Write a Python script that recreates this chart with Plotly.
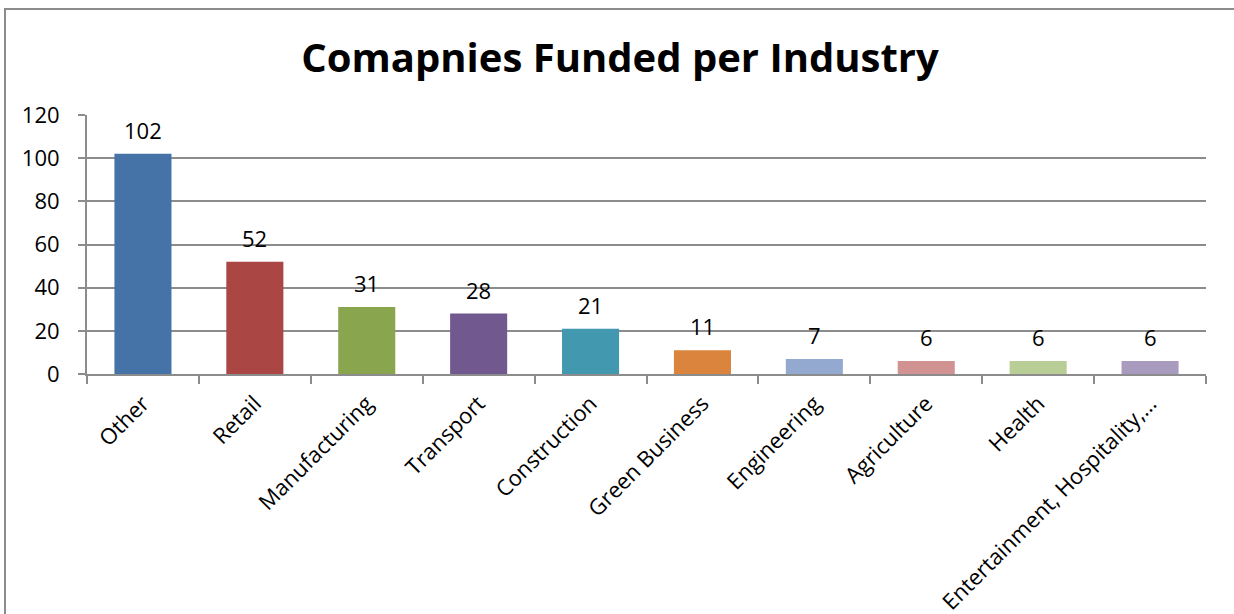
import plotly.graph_objects as go

industries = ["Other", "Retail", "Manufacturing", "Transport", "Construction",
              "Green Business", "Engineering", "Agriculture", "Health",
              "Entertainment, Hospitality,…"]
companies = [102, 52, 31, 28, 21, 11, 7, 6, 6, 6]
bar_colors = ["#4572A7", "#AA4643", "#89A54E", "#71588F", "#4198AF",
              "#DB843D", "#93A9CF", "#D19392", "#B9CD96", "#A99BBD"]
y_ticks = [0, 20, 40, 60, 80, 100, 120]

W, H = 1234, 614
ML, MR, MT, MB = 87, 28, 115, 240
FONT = "Open Sans, Calibri, sans-serif"
GRID = "#8c8c8c"

fig = go.Figure(go.Bar(
    x=industries,
    y=companies,
    marker=dict(color=bar_colors, line=dict(width=0)),
    width=0.51,
    hoverinfo="x+y",
))

# value labels above each bar
for name, val in zip(industries, companies):
    fig.add_annotation(x=name, y=val, text=str(val), showarrow=False,
                       xanchor="center", yanchor="bottom", yshift=7,
                       font=dict(family=FONT, size=22, color="#000000"))

# outer chart frame (runs off the right and bottom edges)
pw, ph = W - ML - MR, H - MT - MB
fig.add_shape(type="rect", xref="paper", yref="paper",
              x0=(5 - ML) / pw, x1=(W + 20 - ML) / pw,
              y0=-(H + 20 - MT - ph) / ph, y1=(H - MB - 9) / ph,
              line=dict(color=GRID, width=2), fillcolor="rgba(0,0,0,0)",
              layer="below")

fig.update_layout(
    width=W, height=H,
    margin=dict(l=ML, r=MR, t=MT, b=MB, autoexpand=False),
    paper_bgcolor="white", plot_bgcolor="white",
    showlegend=False,
    title=dict(text="<b>Comapnies Funded per Industry</b>",
               x=(620 - ML) / pw, xref="paper", xanchor="center",
               y=1 - 58 / H, yanchor="middle",
               font=dict(family=FONT, size=40, color="#000000")),
    font=dict(family=FONT, size=22, color="#000000"),
    xaxis=dict(
        tickangle=-45,
        automargin=False,
        ticks="outside", tickson="boundaries", ticklen=8, tickwidth=2,
        tickcolor=GRID,
        showline=True, linecolor=GRID, linewidth=2,
        showgrid=False,
        ticklabelstandoff=6,
        tickfont=dict(size=22),
    ),
    yaxis=dict(
        range=[0, 120],
        tickvals=y_ticks,
        automargin=False,
        ticks="outside", ticklen=7, tickwidth=2, tickcolor=GRID,
        showline=True, linecolor=GRID, linewidth=2,
        showgrid=True, gridcolor=GRID, gridwidth=2,
        zeroline=False,
        ticklabelstandoff=14,
        tickfont=dict(size=22),
    ),
    bargap=0.49,
)

fig.write_html("out.html")
